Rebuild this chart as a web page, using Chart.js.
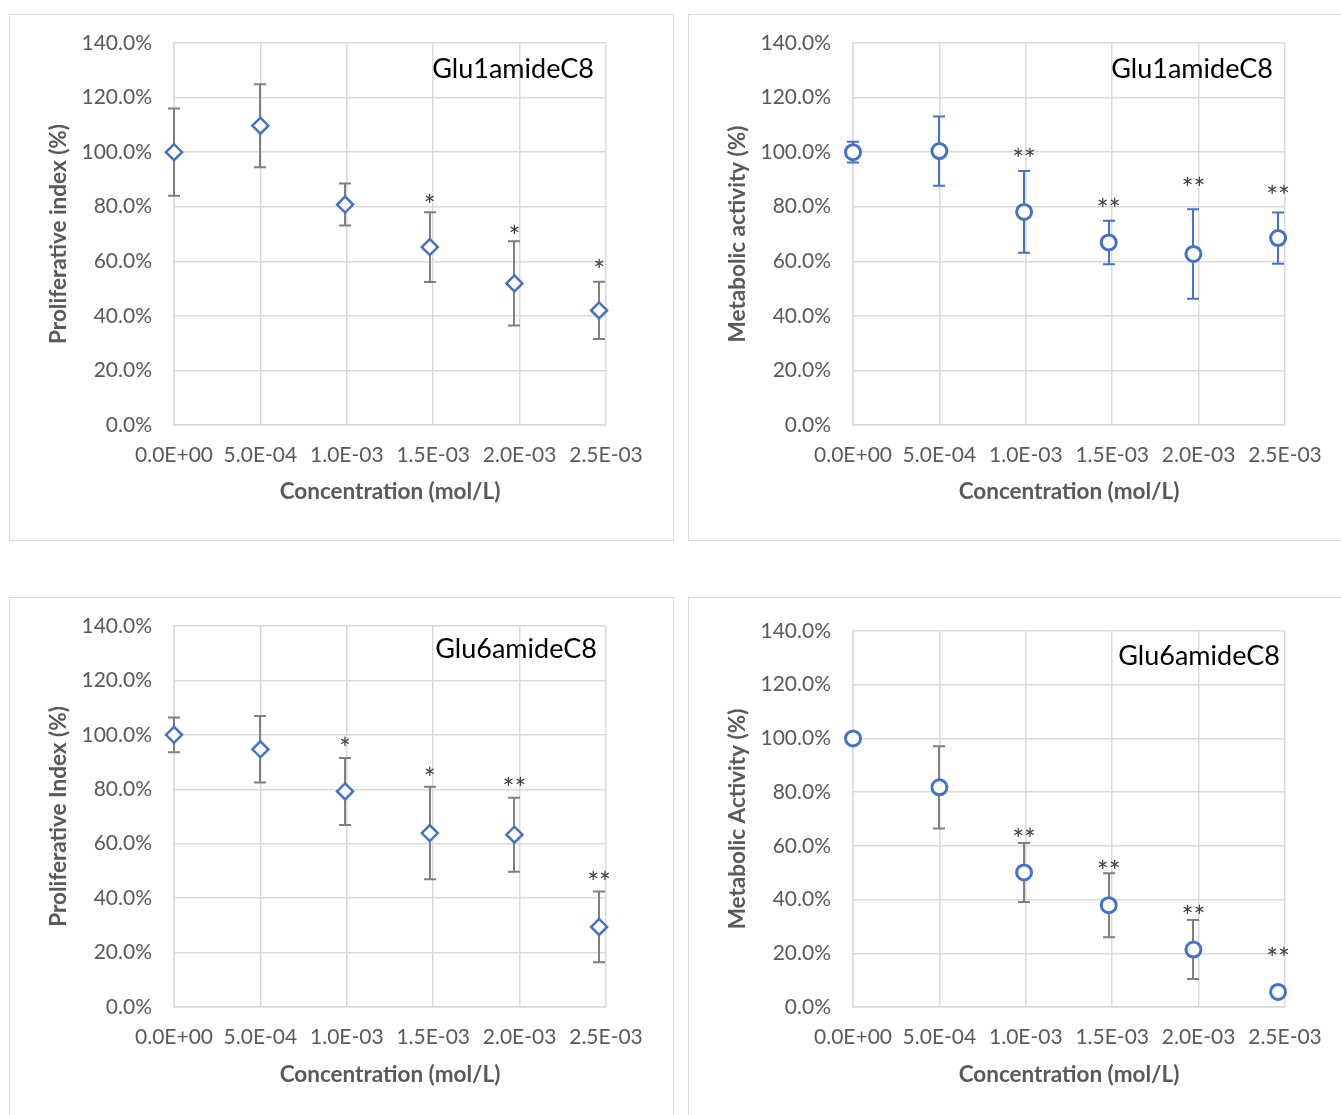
<!DOCTYPE html>
<html>
<head>
<meta charset="utf-8">
<script src="https://cdn.jsdelivr.net/npm/chart.js@4.4.0/dist/chart.umd.min.js"></script>
<style>
body { margin: 0; background: #fff; width: 1341px; height: 1115px; overflow: hidden; position: relative; }
.panel { position: absolute; border: 1px solid #d9d9d9; background: #fff; }
.panel canvas { display: block; }
</style>
</head>
<body>
<div class="panel" style="left:9px;top:14px;width:663px;height:525px"><canvas id="c1" width="663" height="525"></canvas></div>
<div class="panel" style="left:688px;top:14px;width:663px;height:525px"><canvas id="c2" width="663" height="525"></canvas></div>
<div class="panel" style="left:9px;top:597px;width:663px;height:525px"><canvas id="c3" width="663" height="525"></canvas></div>
<div class="panel" style="left:688px;top:597px;width:663px;height:525px"><canvas id="c4" width="663" height="525"></canvas></div>
<script>
// concentrations (mol/L)
var conc = [0, 0.0005, 0.00099, 0.00148, 0.00197, 0.00246];
var xTicks = [0, 0.0005, 0.001, 0.0015, 0.002, 0.0025];

// Glu1amideC8 - proliferative index
var prolif1 = [100, 109.7, 80.8, 65.2, 51.9, 42.0];
var prolif1Err = [16, 15.2, 7.7, 12.8, 15.4, 10.5];
var prolif1Stars = ['', '', '', '*', '*', '*'];
var prolif1StarY = [0, 0, 0, 82.2, 70.7, 58.3];

// Glu1amideC8 - metabolic activity
var metab1 = [100, 100.4, 78.1, 66.9, 62.7, 68.5];
var metab1Err = [3.8, 12.7, 15, 8, 16.4, 9.4];
var metab1Stars = ['', '', '**', '**', '**', '**'];
var metab1StarY = [0, 0, 99, 80.7, 88.3, 85.4];

// Glu6amideC8 - proliferative index
var prolif6 = [100, 94.7, 79.2, 63.9, 63.3, 29.4];
var prolif6Err = [6.4, 12.2, 12.3, 17, 13.6, 13];
var prolif6Stars = ['', '', '*', '*', '**', '**'];
var prolif6StarY = [0, 0, 96.7, 85.8, 82.1, 47.4];

// Glu6amideC8 - metabolic activity
var metab6 = [100, 81.8, 50.1, 37.9, 21.4, 5.6];
var metab6Err = [0, 15.3, 11, 11.9, 11, 0];
var metab6Stars = ['', '', '**', '**', '**', '**'];
var metab6StarY = [0, 0, 64.2, 52, 35.5, 19.6];

var BLUE = '#4472C4';
var GRID = '#d9d9d9';
var TXT = '#595959';
var FONT = 'Lato';

function sci(v) {
  var p = Number(v).toExponential(1).split('e');
  var ex = parseInt(p[1], 10);
  return p[0] + 'E' + (ex < 0 ? '-' : '+') + String(Math.abs(ex)).padStart(2, '0');
}

// error bars, asterisks and the panel caption
var extras = {
  id: 'extras',
  beforeDatasetsDraw: function(chart) {
    var ds = chart.data.datasets[0];
    var xs = chart.scales.x, ys = chart.scales.y, ctx = chart.ctx;
    ctx.save();
    ctx.strokeStyle = ds.errColor;
    ctx.lineWidth = 2;
    ds.data.forEach(function(p, i) {
      var e = ds.errorBars[i];
      if (!e) return;
      var px = Math.round(xs.getPixelForValue(p.x));
      var top = ys.getPixelForValue(p.y + e);
      var bot = ys.getPixelForValue(p.y - e);
      ctx.beginPath();
      ctx.moveTo(px, top); ctx.lineTo(px, bot);
      ctx.moveTo(px - 6, top); ctx.lineTo(px + 6, top);
      ctx.moveTo(px - 6, bot); ctx.lineTo(px + 6, bot);
      ctx.stroke();
    });
    ctx.restore();
  },
  afterDraw: function(chart, args, o) {
    var ds = chart.data.datasets[0];
    var xs = chart.scales.x, ys = chart.scales.y, ctx = chart.ctx;
    ctx.save();
    ctx.fillStyle = '#404040';
    ctx.font = '28px ' + FONT;
    ctx.textAlign = 'center';
    ctx.textBaseline = 'alphabetic';
    ds.data.forEach(function(p, i) {
      if (!ds.stars[i]) return;
      var px = xs.getPixelForValue(p.x);
      var py = ys.getPixelForValue(ds.starY[i]);
      ctx.fillText(ds.stars[i], px, py + 15);
    });
    ctx.fillStyle = '#000';
    ctx.font = '27px ' + FONT;
    ctx.textAlign = 'right';
    ctx.textBaseline = 'middle';
    ctx.fillText(o.title, o.right, o.y);
    ctx.restore();
  }
};

function makeChart(id, cfg) {
  var data = conc.map(function(c, i) { return {x: c, y: cfg.values[i]}; });
  var circ = cfg.marker === 'circle';
  return new Chart(document.getElementById(id), {
    type: 'scatter',
    data: {
      datasets: [{
        data: data,
        errorBars: cfg.err,
        errColor: cfg.errColor,
        stars: cfg.stars,
        starY: cfg.starY,
        showLine: false,
        pointStyle: cfg.marker,
        pointRadius: circ ? 7.5 : 8,
        pointHoverRadius: circ ? 7.5 : 8,
        pointBorderWidth: circ ? 3 : 2.5,
        pointBackgroundColor: '#fff',
        pointBorderColor: BLUE,
        clip: false
      }]
    },
    options: {
      responsive: false,
      animation: false,
      layout: {padding: {left: 0, top: cfg.top, right: 67, bottom: 0}},
      plugins: {
        legend: {display: false},
        tooltip: {enabled: false},
        extras: {title: cfg.title, right: cfg.titleRight, y: cfg.titleY}
      },
      scales: {
        x: {
          type: 'linear',
          min: 0, max: 0.0025,
          afterFit: function(s) { s.height = 525 - cfg.bottom; s.paddingLeft = 0; s.paddingRight = 0; },
          afterBuildTicks: function(s) { s.ticks = xTicks.map(function(v) { return {value: v}; }); },
          grid: {color: GRID, lineWidth: 1.5, drawTicks: false},
          border: {color: GRID, width: 1.5},
          ticks: {padding: 18, color: TXT, font: {family: FONT, size: 21}, callback: function(v) { return sci(v); }},
          title: {display: true, text: 'Concentration (mol/L)', color: TXT,
                  font: {family: FONT, size: 22.5, weight: 'bold'}, padding: {top: 0, bottom: 35}}
        },
        y: {
          min: 0, max: 140,
          afterFit: function(s) { s.width = 164; s.paddingTop = 0; s.paddingBottom = 0; },
          grid: {color: GRID, lineWidth: 1.5, drawTicks: false},
          border: {color: GRID, width: 1.5},
          ticks: {stepSize: 20, padding: 22, color: TXT, font: {family: FONT, size: 21},
                  callback: function(v) { return v.toFixed(1) + '%'; }},
          title: {display: true, text: cfg.yTitle, color: TXT,
                  font: {family: FONT, size: 22.5, weight: 'bold'}, padding: {top: 35, bottom: 0}}
        }
      }
    },
    plugins: [extras]
  });
}

makeChart('c1', {values: prolif1, err: prolif1Err, errColor: '#7f7f7f', stars: prolif1Stars, starY: prolif1StarY,
  marker: 'rectRot', yTitle: 'Proliferative index (%)', title: 'Glu1amideC8', titleRight: 584, titleY: 54, top: 28, bottom: 410});
makeChart('c2', {values: metab1, err: metab1Err, errColor: BLUE, stars: metab1Stars, starY: metab1StarY,
  marker: 'circle', yTitle: 'Metabolic activity (%)', title: 'Glu1amideC8', titleRight: 584, titleY: 54, top: 28, bottom: 410});
makeChart('c3', {values: prolif6, err: prolif6Err, errColor: '#7f7f7f', stars: prolif6Stars, starY: prolif6StarY,
  marker: 'rectRot', yTitle: 'Proliferative Index (%)', title: 'Glu6amideC8', titleRight: 587, titleY: 51, top: 28, bottom: 409});
makeChart('c4', {values: metab6, err: metab6Err, errColor: '#7f7f7f', stars: metab6Stars, starY: metab6StarY,
  marker: 'circle', yTitle: 'Metabolic Activity (%)', title: 'Glu6amideC8', titleRight: 591, titleY: 58, top: 33, bottom: 409});
</script>
</body>
</html>
